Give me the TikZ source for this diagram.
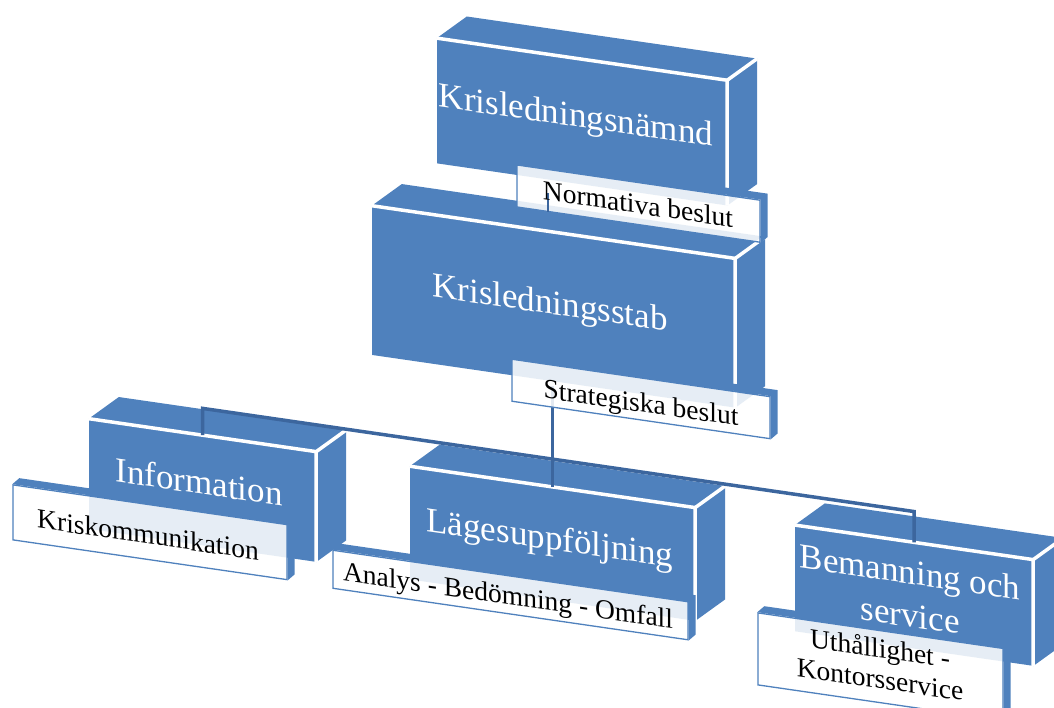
\documentclass[tikz,border=0pt]{standalone}
\usepackage{fontspec}
\setmainfont{Liberation Serif}
\usetikzlibrary{calc}
\definecolor{boxblue}{RGB}{79,129,189}
\definecolor{linkblue}{RGB}{60,102,158}
\tikzset{
  front/.style={fill=boxblue, inner sep=0pt, transform shape},
  boxtext/.style={inner sep=0pt, transform shape, text=white, anchor=base,
    font=\fontsize{35}{43}\selectfont},
  lab/.style={fill=white, fill opacity=0.86, draw=boxblue, draw opacity=1,
    line width=1.3pt, inner sep=0pt, transform shape},
  labtext/.style={inner sep=0pt, transform shape, text=black, anchor=base,
    font=\fontsize{27.5}{31}\selectfont},
  face/.style={fill=boxblue},
  whiteedge/.style={white, line width=3.5pt},
  link/.style={linkblue, line width=3.5pt},
}
\newcommand\cubefaces[1]{%
  \fill[face] (#1.north west) -- ($(#1.north west)+(30,-26)$) -- ($(#1.north east)+(30,-26)$)
     -- ($(#1.south east)+(30,-26)$) -- (#1.south east) -- (#1.north east) -- cycle;
  \draw[whiteedge] (#1.north west) -- (#1.north east) -- (#1.south east);
  \draw[whiteedge] (#1.north east) -- ($(#1.north east)+(30,-26)$);
}
\newcommand\labfaces[1]{%
  \fill[face] (#1.north west) -- ($(#1.north west)+(7,-7)$) -- ($(#1.north east)+(7,-7)$)
     -- ($(#1.south east)+(7,-7)$) -- (#1.south east) -- (#1.north east) -- cycle;
}
\begin{document}
\begin{tikzpicture}[x=1pt, y=-1pt]
\useasboundingbox (0,0) rectangle (1054,707);
\clip (0,0) rectangle (1054,707);
\begin{scope}[yslant=-0.145]
  % top level
  \node[front, minimum width=290pt, minimum height=125pt] (b1) at (582,37.5) {};
  \cubefaces{b1}
  \node[boxtext] (t1) at (576,43) {Krisledningsnämnd};
  \node[front, minimum width=363pt, minimum height=149pt] (b2) at (553.5,226.5) {};
  \cubefaces{b2}
  \node[boxtext] (t2) at (550,234) {Krisledningsstab};
  % lower boxes
  \node[front, minimum width=227pt, minimum height=110pt] (b3) at (202.5,461) {};
  \cubefaces{b3}
  \node[boxtext] (t3) at (199,465) {Information};
  \node[front, minimum width=285pt, minimum height=113pt] (b4) at (552.5,463.5) {};
  \cubefaces{b4}
  \node[boxtext] (t4) at (550,469.5) {Lägesuppföljning};
  \node[front, minimum width=238pt, minimum height=106pt] (b5) at (914,463) {};
  \cubefaces{b5}
  \node[boxtext] (t5a) at (910,452) {Bemanning och};
  \node[boxtext] (t5b) at (910,495) {service};
  % connectors
  \coordinate (busL) at (202.5,379);
  \coordinate (busR) at (914,379);
  \coordinate (l2drop) at (552.5,306);
  \draw[link] (b3.north) -- (busL) -- (busR) -- (b5.north);
  \draw[link, line width=3pt] (l2drop) -- (b4.north);
  % labels
  \node[lab, minimum width=243pt, minimum height=42pt] (l1) at (638.5,111) {};
  \labfaces{l1}
  \coordinate (c1a) at (548,114);
  \coordinate (c1b) at (548,133);
  \draw[link, line width=2.5pt] (c1a) -- (c1b);
  \node[labtext] (s1) at (638,121) {Normativa beslut};
  \node[lab, minimum width=258pt, minimum height=42pt] (l2) at (641,306) {};
  \labfaces{l2}
  \node[labtext] (s2) at (641,319) {Strategiska beslut};
  \node[lab, minimum width=274pt, minimum height=55pt] (l3) at (150,510.5) {};
  \labfaces{l3}
  \node[labtext] (s3) at (148,522.5) {Kriskommunikation};
  \node[lab, minimum width=355pt, minimum height=38pt] (l4) at (510.5,521) {};
  \labfaces{l4}
  \node[labtext] (s4) at (508,531) {Analys - Bedömning - Omfall};
  \node[lab, minimum width=245pt, minimum height=72pt] (l5) at (880.5,539) {};
  \labfaces{l5}
  \node[labtext] (s5a) at (880,530) {Uthållighet -};
  \node[labtext] (s5b) at (880,561) {Kontorsservice};
\end{scope}
\end{tikzpicture}
\end{document}
